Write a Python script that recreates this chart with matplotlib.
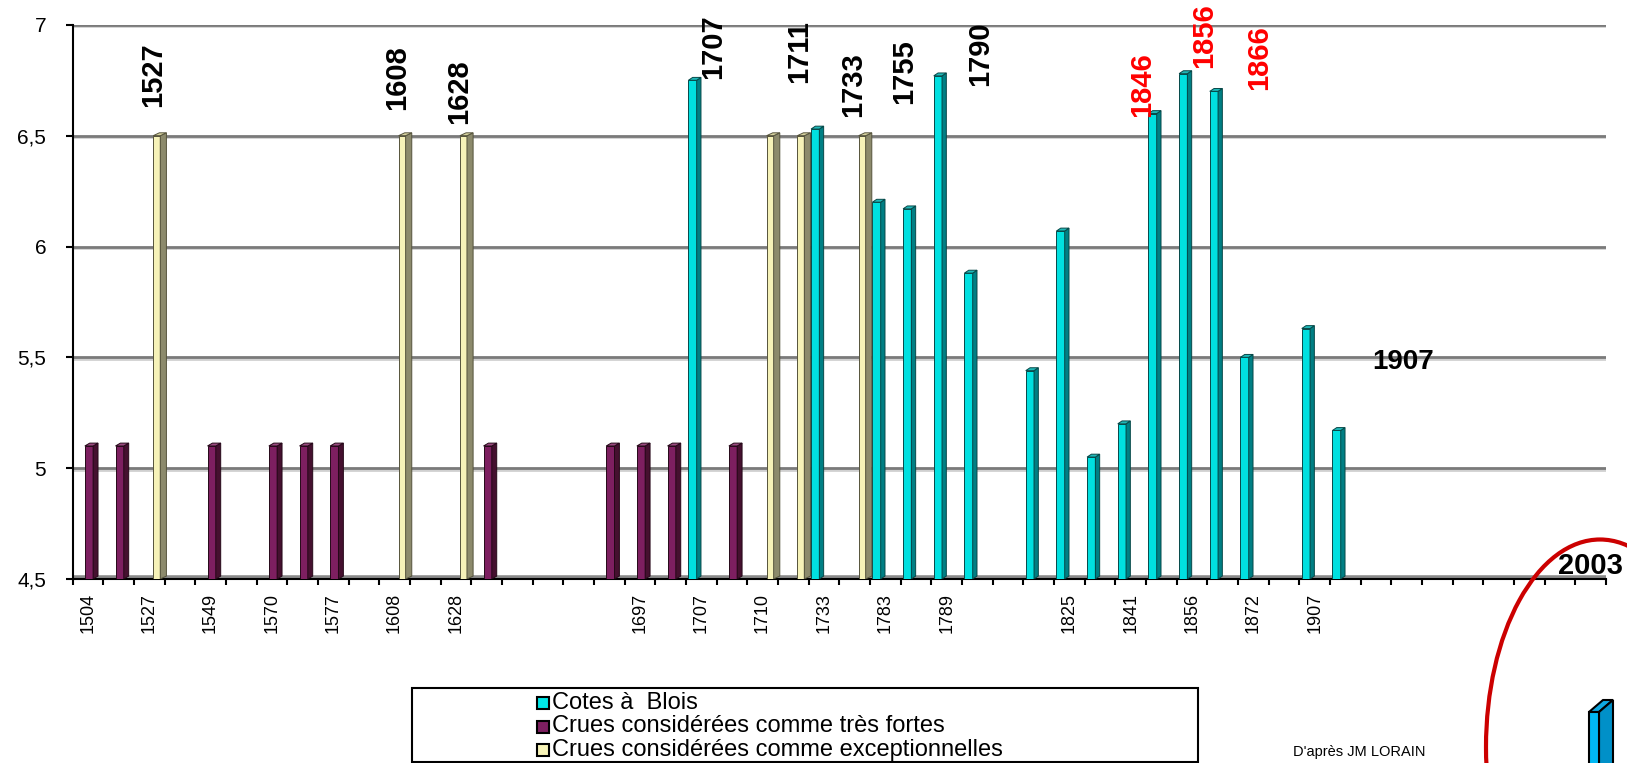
import numpy as np
import matplotlib.pyplot as plt
from matplotlib.patches import Polygon, Rectangle, Ellipse

plt.rcParams['font.family'] = ['Liberation Sans', 'DejaVu Sans']

# x categories (one label every other slot, as in the original sheet)
categories = ["1504", "", "1527", "", "1549", "", "1570", "", "1577", "",
              "1608", "", "1628", "", "", "", "", "", "1697", "",
              "1707", "", "1710", "", "1733", "", "1783", "", "1789", "",
              "", "", "1825", "", "1841", "", "1856", "", "1872", "",
              "1907", "", "", "", "", "", "", "", "", ""]

# Cotes à Blois
cotes_idx = [20, 24, 26, 27, 28, 29, 31, 32, 33, 34, 35, 36, 37, 38, 40, 41]
cotes_val = [6.75, 6.53, 6.20, 6.17, 6.77, 5.88, 5.44, 6.07, 5.05, 5.20,
             6.60, 6.78, 6.70, 5.50, 5.63, 5.17]

# Crues considérées comme très fortes
fortes_idx = [0, 1, 4, 6, 7, 8, 13, 17, 18, 19, 21]
fortes_val = [5.1, 5.1, 5.1, 5.1, 5.1, 5.1, 5.1, 5.1, 5.1, 5.1, 5.1]

# Crues considérées comme exceptionnelles
except_idx = [2, 10, 12, 22, 23, 25]
except_val = [6.5, 6.5, 6.5, 6.5, 6.5, 6.5]

# year labels written over the bars
notes = ["1527", "1608", "1628", "1707", "1711", "1733", "1755", "1790",
         "1846", "1856", "1866"]
note_colors = ["black"] * 8 + ["red"] * 3

legend_labels = ["Cotes à  Blois",
                 "Crues considérées comme très fortes",
                 "Crues considérées comme exceptionnelles"]

YMIN = 4.5
DY = 0.013


def draw_bars(ax, idx, vals, left, fw, sw, front, side, top, edge):
    x = np.array(idx) + left + fw / 2
    v = np.array(vals)
    ax.bar(x, v - YMIN, width=fw, bottom=YMIN, color=front,
           edgecolor=edge, linewidth=0.7, zorder=3)
    for xi, vi in zip(x, v):
        xl, xr = xi - fw / 2, xi + fw / 2
        ax.add_patch(Polygon([(xr, YMIN), (xr + sw, YMIN + DY), (xr + sw, vi + DY), (xr, vi)],
                             closed=True, facecolor=side, edgecolor=edge, lw=0.7, zorder=3))
        ax.add_patch(Polygon([(xl, vi), (xr, vi), (xr + sw, vi + DY), (xl + sw, vi + DY)],
                             closed=True, facecolor=top, edgecolor=edge, lw=0.7, zorder=3))


fig = plt.figure(figsize=(16.27, 7.63), dpi=100)
ax = fig.add_axes([0.0446, 0.2412, 0.9425, 0.7262])

# gridlines with a light shadow, like the old Excel 3D chart
for y in [5, 5.5, 6, 6.5, 7]:
    ax.axhline(y - 0.007, color='#d0d0d0', lw=2, zorder=0.5)
    ax.axhline(y, color='#7a7a7a', lw=2, zorder=1)
ax.axhline(YMIN + 0.006, color='#8a8a8a', lw=4, zorder=1)

draw_bars(ax, cotes_idx, cotes_val, -0.42, 0.27, 0.14,
          '#00e0e0', '#007f84', '#20b8b8', '#064848')
draw_bars(ax, fortes_idx, fortes_val, -0.10, 0.27, 0.16,
          '#7d1f60', '#45102f', '#9a4a80', '#250818')
draw_bars(ax, except_idx, except_val, 0.13, 0.23, 0.20,
          '#f6f2b8', '#8c8a6c', '#d8d4a0', '#55533c')

ax.set_xlim(-0.5, len(categories) - 0.5)
ax.set_ylim(YMIN, 7)

ax.set_xticks(np.arange(len(categories)))
ax.set_xticklabels(categories, rotation=90, fontsize=13)
ax.set_xticks(np.arange(len(categories) + 1) - 0.5, minor=True)
ax.tick_params(axis='x', which='major', length=0, pad=10)
ax.tick_params(axis='x', which='minor', length=4, width=1.5, direction='out')

yt = [4.5, 5, 5.5, 6, 6.5, 7]
ax.set_yticks(yt)
ax.set_yticklabels([f"{t:g}".replace('.', ',') for t in yt], fontsize=15)
ax.tick_params(axis='y', length=5, width=1.5, pad=14)

for s in ['top', 'right']:
    ax.spines[s].set_visible(False)
ax.spines['left'].set_linewidth(1.5)
ax.spines['bottom'].set_linewidth(1.5)

# annotations
note_x = [2.14, 10.09, 12.12, 20.38, 23.19, 24.95, 26.6, 29.1, 34.36, 36.39, 38.18]
note_y = [6.775, 6.76, 6.70, 6.90, 6.88, 6.73, 6.79, 6.87, 6.73, 6.95, 6.85]
for t, x, y, c in zip(notes, note_x, note_y, note_colors):
    ax.text(x, y, t, rotation=90, ha='center', va='center', fontsize=21,
            fontweight='bold', color=c, zorder=5, clip_on=False)
ax.text(42.9, 5.48, "1907", ha='center', va='center', fontsize=20,
        fontweight='bold', zorder=5)
ax.text(49.0, 4.56, "2003", ha='center', va='center', fontsize=21,
        fontweight='bold', zorder=5, clip_on=False)

# overlay in pixel coordinates for legend, circle and small bar
ov = fig.add_axes([0, 0, 1, 1], zorder=10)
ov.set_xlim(0, 1627)
ov.set_ylim(763, 0)
ov.axis('off')
ov.patch.set_alpha(0)

ov.add_patch(Ellipse((1600, 747), 228, 415, fill=False, edgecolor='#cc0000', lw=3))

ov.add_patch(Polygon([(1589, 712), (1599, 712), (1613, 700), (1603, 700)],
                     closed=True, facecolor='#10a8e0', edgecolor='black', lw=1.5))
ov.add_patch(Polygon([(1599, 712), (1613, 700), (1613, 770), (1599, 770)],
                     closed=True, facecolor='#0090c8', edgecolor='black', lw=1.5))
ov.add_patch(Rectangle((1589, 712), 10, 60, facecolor='#00b8f4', edgecolor='black', lw=1.5))

ov.add_patch(Rectangle((412, 688), 786, 74, fill=False, edgecolor='black', lw=1.5))
leg_colors = ['#00e8e8', '#7d1f60', '#f8f4b8']
for i, (lab, c) in enumerate(zip(legend_labels, leg_colors)):
    yc = 703 + i * 23.5
    ov.add_patch(Rectangle((537, yc - 6), 12, 12, facecolor=c, edgecolor='black', lw=1.5))
    ov.text(552, yc, lab, ha='left', va='center', fontsize=17)

ov.text(1359, 752, "D'après JM LORAIN", ha='center', va='center', fontsize=10.5)

fig.savefig('out.png', dpi=100)
